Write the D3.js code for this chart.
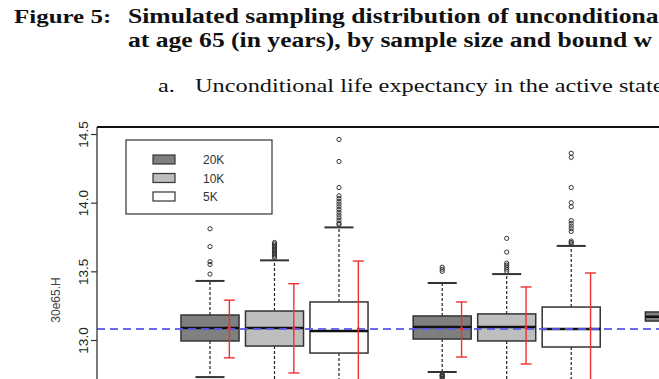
<!DOCTYPE html>
<html>
<head>
<meta charset="utf-8">
<script src="https://cdn.jsdelivr.net/npm/d3@7"></script>
<style>
  body { margin: 0; background: #fff; }
  svg { display: block; }
</style>
</head>
<body>
<div id="chart"></div>
<script>
// sample sizes, one fill per size
var sampleSizes = ["20K", "10K", "5K"];
var sizeFill = ["#7f7f7f", "#bebebe", "#ffffff"];

// one entry per box: bound group and sample size index
var boxGroup = [0, 0, 0, 1, 1, 1, 2];
var boxSize  = [0, 1, 2, 0, 1, 2, 0];

// box statistics (years)
var q1      = [12.993, 12.956, 12.905, 13.007, 12.993, 12.949, 13.138];
var median  = [13.087, 13.087, 13.066, 13.095, 13.095, 13.080, 13.170];
var q3      = [13.182, 13.211, 13.277, 13.175, 13.190, 13.240, 13.204];
var whiskLo = [12.730, 12.600, 12.360, 12.767, 12.620, 12.440, 12.950];
var whiskHi = [13.430, 13.580, 13.820, 13.415, 13.480, 13.685, 13.400];

var outliers = [
  [13.81, 13.68, 13.57, 13.55, 13.48],
  [13.71, 13.70, 13.69, 13.68, 13.67, 13.66, 13.65, 13.64, 13.63, 13.62, 13.61, 13.60],
  [14.46, 14.30, 14.11, 14.05, 14.03, 14.01, 13.99, 13.97, 13.95, 13.93, 13.91, 13.89, 13.87, 13.85, 13.84],
  [13.53, 13.515, 13.50, 12.75, 12.745, 12.74, 12.735, 12.73, 12.72],
  [13.74, 13.64, 13.56, 13.545, 13.53, 13.515, 13.50],
  [14.36, 14.33, 14.11, 14.00, 13.97, 13.87, 13.85, 13.83, 13.81, 13.79, 13.72, 13.71, 13.70],
  []
];

// red interval bars
var errMid = [13.088, 13.088, 13.082, 13.082, 13.088, 13.084, 13.170];
var errLo  = [12.870, 12.760, 12.580, 12.876, 12.825, 12.670, 12.980];
var errHi  = [13.290, 13.410, 13.575, 13.277, 13.386, 13.488, 13.360];

var refValue = 13.08;
var yTicks = [13.0, 13.5, 14.0, 14.5];

var svgWidth = 659;
var svgHeight = 379;
var plotLeft = 97;
var plotTop = 127;

var svg = d3.select("#chart")
  .append("svg")
  .attr("width", svgWidth)
  .attr("height", svgHeight);

// heading text (page is stretched horizontally in the source)
var serif = "'Liberation Serif', 'Times New Roman', serif";
var sans = "'Liberation Sans', Arial, sans-serif";

function heading(x, y, txt, bold, size) {
  svg.append("text")
    .attr("transform", `translate(${x}, ${y}) scale(1.28, 1)`)
    .style("font-family", serif)
    .style("font-weight", bold ? "bold" : "normal")
    .style("font-size", size + "px")
    .style("fill", "#111")
    .text(txt);
}
heading(14, 23, "Figure 5:", true, 19.5);
heading(128, 23, "Simulated sampling distribution of unconditional", true, 20);
heading(128, 47, "at age 65 (in years), by sample size and bound w", true, 20);
heading(158, 92, "a.", false, 19);
heading(195, 92, "Unconditional life expectancy in the active state", false, 19);

//scales
var x = d3.scaleLinear().domain([0, 1]).range([210, 274.5]);
var y = d3.scaleLinear().domain([13.0, 14.5]).range([340, 134]);
var pos = boxGroup.map((g, i) => g * 3.6 + boxSize[i]);
var boxHalf = (x(0.9) - x(0)) / 2;
var capHalf = boxHalf / 2;

var chartGroup = svg.append("g");
var idx = d3.range(q1.length);

// whiskers
chartGroup.selectAll(".whisk")
  .data(idx.flatMap(i => [[i, q3[i], whiskHi[i]], [i, q1[i], whiskLo[i]]]))
  .enter()
  .append("line")
  .attr("x1", d => x(pos[d[0]]))
  .attr("x2", d => x(pos[d[0]]))
  .attr("y1", d => y(d[1]))
  .attr("y2", d => y(d[2]))
  .attr("stroke", "#222")
  .attr("stroke-width", 1.2)
  .attr("stroke-dasharray", "3,2");

chartGroup.selectAll(".cap")
  .data(idx.flatMap(i => [[i, whiskHi[i]], [i, whiskLo[i]]]))
  .enter()
  .append("line")
  .attr("x1", d => x(pos[d[0]]) - capHalf)
  .attr("x2", d => x(pos[d[0]]) + capHalf)
  .attr("y1", d => y(d[1]))
  .attr("y2", d => y(d[1]))
  .attr("stroke", "#333")
  .attr("stroke-width", 2);

// boxes
chartGroup.selectAll(".box")
  .data(idx)
  .enter()
  .append("rect")
  .attr("x", i => x(pos[i]) - boxHalf)
  .attr("y", i => y(q3[i]))
  .attr("width", boxHalf * 2)
  .attr("height", i => y(q1[i]) - y(q3[i]))
  .attr("fill", i => sizeFill[boxSize[i]])
  .attr("stroke", "#333")
  .attr("stroke-width", 1.5);

chartGroup.selectAll(".med")
  .data(idx)
  .enter()
  .append("line")
  .attr("x1", i => x(pos[i]) - boxHalf)
  .attr("x2", i => x(pos[i]) + boxHalf)
  .attr("y1", i => y(median[i]))
  .attr("y2", i => y(median[i]))
  .attr("stroke", "#111")
  .attr("stroke-width", 2.5);

// outlier circles
chartGroup.selectAll(".out")
  .data(idx.flatMap(i => outliers[i].map(v => [i, v])))
  .enter()
  .append("circle")
  .attr("cx", d => x(pos[d[0]]))
  .attr("cy", d => y(d[1]))
  .attr("r", 2.1)
  .attr("fill", "none")
  .attr("stroke", "#333")
  .attr("stroke-width", 1);

// reference line
chartGroup.append("line")
  .attr("x1", plotLeft)
  .attr("x2", svgWidth)
  .attr("y1", y(refValue))
  .attr("y2", y(refValue))
  .attr("stroke", "#5a5ae8")
  .attr("stroke-width", 2)
  .attr("stroke-dasharray", "8,5")
  .attr("opacity", 0.9);

// red interval bars
var errX = i => x(pos[i] + 0.3);
chartGroup.selectAll(".err")
  .data(idx)
  .enter()
  .append("line")
  .attr("x1", errX)
  .attr("x2", errX)
  .attr("y1", i => y(errLo[i]))
  .attr("y2", i => y(errHi[i]))
  .attr("stroke", "#f03030")
  .attr("stroke-width", 1.4);

chartGroup.selectAll(".errcap")
  .data(idx.flatMap(i => [[i, errLo[i]], [i, errHi[i]]]))
  .enter()
  .append("line")
  .attr("x1", d => errX(d[0]) - 5.5)
  .attr("x2", d => errX(d[0]) + 5.5)
  .attr("y1", d => y(d[1]))
  .attr("y2", d => y(d[1]))
  .attr("stroke", "#f03030")
  .attr("stroke-width", 1.4);

chartGroup.selectAll(".errdot")
  .data(idx)
  .enter()
  .append("circle")
  .attr("cx", errX)
  .attr("cy", i => y(errMid[i]))
  .attr("r", 1.6)
  .attr("fill", "#f03030");

// frame: top edge + left axis
svg.append("line")
  .attr("x1", plotLeft).attr("x2", svgWidth)
  .attr("y1", plotTop).attr("y2", plotTop)
  .attr("stroke", "#111").attr("stroke-width", 1.8);

var lftAxis = d3.axisLeft(y)
  .tickValues(yTicks)
  .tickFormat(d3.format(".1f"))
  .tickSize(6)
  .tickSizeOuter(0);

var axisG = svg.append("g")
  .attr("transform", `translate(${plotLeft}, 0)`)
  .call(lftAxis);
axisG.select(".domain").attr("d", `M0,${plotTop}V${svgHeight}`).attr("stroke", "#333").attr("stroke-width", 1.3);
axisG.selectAll(".tick line").attr("stroke", "#333").attr("stroke-width", 1.2);
axisG.selectAll(".tick text")
  .attr("x", 0).attr("y", 0).attr("dy", 0)
  .attr("transform", "translate(-9, 0) rotate(-90)")
  .attr("text-anchor", "middle")
  .style("font-family", sans)
  .style("font-size", "13.5px")
  .style("fill", "#222");

//axis label
svg.append("text")
  .attr("transform", "translate(60, 300) rotate(-90)")
  .attr("text-anchor", "middle")
  .style("font-family", sans)
  .style("font-size", "12px")
  .style("fill", "#444")
  .text("30e65.H");

// legend
var legend = svg.append("g");
legend.append("rect")
  .attr("x", 126).attr("y", 140)
  .attr("width", 146).attr("height", 74)
  .attr("fill", "#fff").attr("stroke", "#333").attr("stroke-width", 1.2);

legend.selectAll(".sw")
  .data(sampleSizes)
  .enter()
  .append("rect")
  .attr("x", 153)
  .attr("y", (d, i) => 155 + i * 18.5)
  .attr("width", 22).attr("height", 9)
  .attr("fill", (d, i) => sizeFill[i])
  .attr("stroke", "#333").attr("stroke-width", 1.2);

legend.selectAll(".lt")
  .data(sampleSizes)
  .enter()
  .append("text")
  .attr("x", 203)
  .attr("y", (d, i) => 164 + i * 18.5)
  .style("font-family", sans)
  .style("font-size", "12px")
  .style("fill", "#333")
  .text(d => d);
</script>
</body>
</html>
